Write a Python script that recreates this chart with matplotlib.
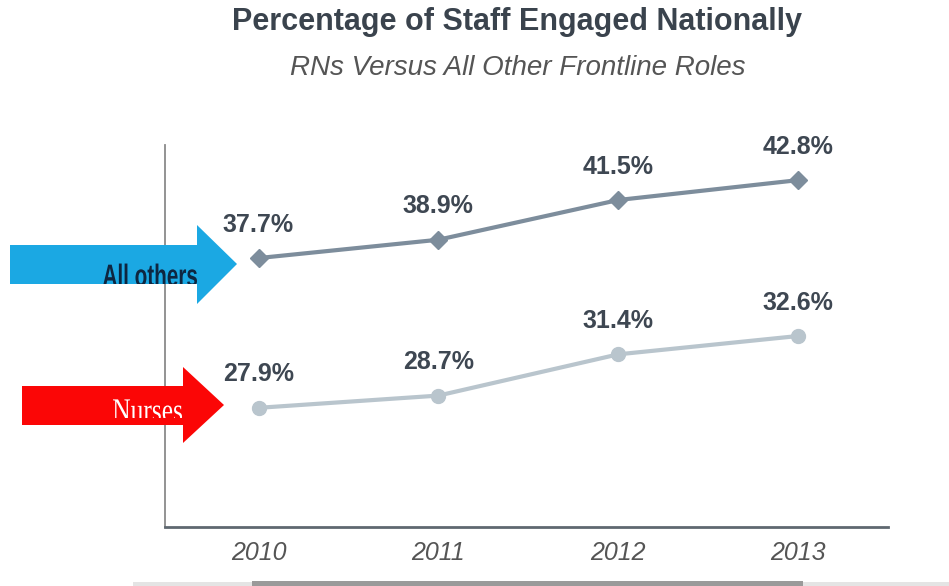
import matplotlib.pyplot as plt
from matplotlib.patches import Polygon, Rectangle, PathPatch
from matplotlib.textpath import TextPath
from matplotlib.font_manager import FontProperties
from matplotlib.transforms import Affine2D, Bbox, TransformedBbox

years = [2010, 2011, 2012, 2013]
all_others = [37.7, 38.9, 41.5, 42.8]
nurses = [27.9, 28.7, 31.4, 32.6]

W, H = 949, 586
plt.rcParams['font.family'] = ['Liberation Sans', 'DejaVu Sans']

fig = plt.figure(figsize=(W / 100, H / 100), dpi=100)
ax = fig.add_axes([165 / W, 1 - 527 / H, (888 - 165) / W, (527 - 145) / H])


def px(x, y):
    # pixel position -> figure fraction
    return (x / W, 1 - y / H)


c_top = '#7d8d9c'
c_low = '#b9c5cd'
ax.plot(years, all_others, color=c_top, lw=3, marker='D', ms=9,
        solid_capstyle='round', zorder=3)
ax.plot(years, nurses, color=c_low, lw=3, marker='o', ms=10,
        solid_capstyle='round', zorder=3)

for x, v in zip(years, all_others):
    ax.annotate(f'{v}%', (x, v), xytext=(0, 24), textcoords='offset points',
                ha='center', va='center', fontsize=18, fontweight='bold',
                color='#3e4752')
for x, v in zip(years, nurses):
    ax.annotate(f'{v}%', (x, v), xytext=(0, 24), textcoords='offset points',
                ha='center', va='center', fontsize=18, fontweight='bold',
                color='#3e4752')

ax.set_xlim(2009.48, 2013.5)
ax.set_ylim(20.1, 45.1)
ax.set_xticks(years)
ax.set_xticklabels([str(y) for y in years], fontsize=18, style='italic',
                   color='#555555')
ax.tick_params(axis='x', length=0, pad=10)
ax.set_yticks([])
for s in ['top', 'right']:
    ax.spines[s].set_visible(False)
ax.spines['left'].set_color('#8a8a8a')
ax.spines['left'].set_linewidth(1.3)
ax.spines['bottom'].set_color('#5f6870')
ax.spines['bottom'].set_linewidth(2)

fig.text(*px(517, 22), 'Percentage of Staff Engaged Nationally', ha='center',
         va='center', fontsize=22, fontweight='bold', color='#3a434d')
fig.text(*px(518, 68), 'RNs Versus All Other Frontline Roles', ha='center',
         va='center', fontsize=20, style='italic', color='#555555')

# callout arrows on the left
blue_pts = [(10, 245), (197, 245), (197, 225), (237, 264), (197, 304),
            (197, 284), (10, 284)]
red_pts = [(22, 386), (183, 386), (183, 367), (224, 405), (183, 443),
           (183, 425), (22, 425)]
fig.add_artist(Polygon([px(*p) for p in blue_pts], closed=True,
                       transform=fig.transFigure, facecolor='#1ba8e3',
                       edgecolor='none', zorder=5))
fig.add_artist(Polygon([px(*p) for p in red_pts], closed=True,
                       transform=fig.transFigure, facecolor='#fb0606',
                       edgecolor='none', zorder=5))


def squeezed_label(s, left, right, base, ex, ey, clip, prop, color):
    # text drawn as a path so it can be stretched and clipped to a box
    tp = TextPath((0, 0), s, size=1, prop=prop)
    ext = tp.get_extents()
    sx = (right - left) / ext.width
    tr = (Affine2D().translate(-ext.x0, 0).scale(sx, ey)
          .translate(left, H - base).scale(1 / W, 1 / H) + fig.transFigure)
    p = PathPatch(tp, transform=tr, facecolor=color, edgecolor='none',
                  zorder=6)
    x0, y0 = px(clip[0], clip[3])
    x1, y1 = px(clip[2], clip[1])
    p.set_clip_box(TransformedBbox(Bbox.from_extents(x0, y0, x1, y1),
                                   fig.transFigure))
    fig.add_artist(p)


squeezed_label('All others', 103, 197, 286, None, 31, (10, 245, 197, 284),
               FontProperties(family='Liberation Sans', weight='bold'),
               '#0e2640')
squeezed_label('Nurses', 113, 182, 421, None, 33, (22, 386, 183, 418),
               FontProperties(family='Liberation Serif'), 'white')

# strip along the bottom edge
fig.add_artist(Rectangle(px(133, 586), (W - 133) / W, 4 / H,
                         transform=fig.transFigure, facecolor='#e4e4e4',
                         edgecolor='none'))
fig.add_artist(Rectangle(px(252, 586), (803 - 252) / W, 5 / H,
                         transform=fig.transFigure, facecolor='#9a9a9a',
                         edgecolor='none'))

fig.savefig('out.png', dpi=100)
